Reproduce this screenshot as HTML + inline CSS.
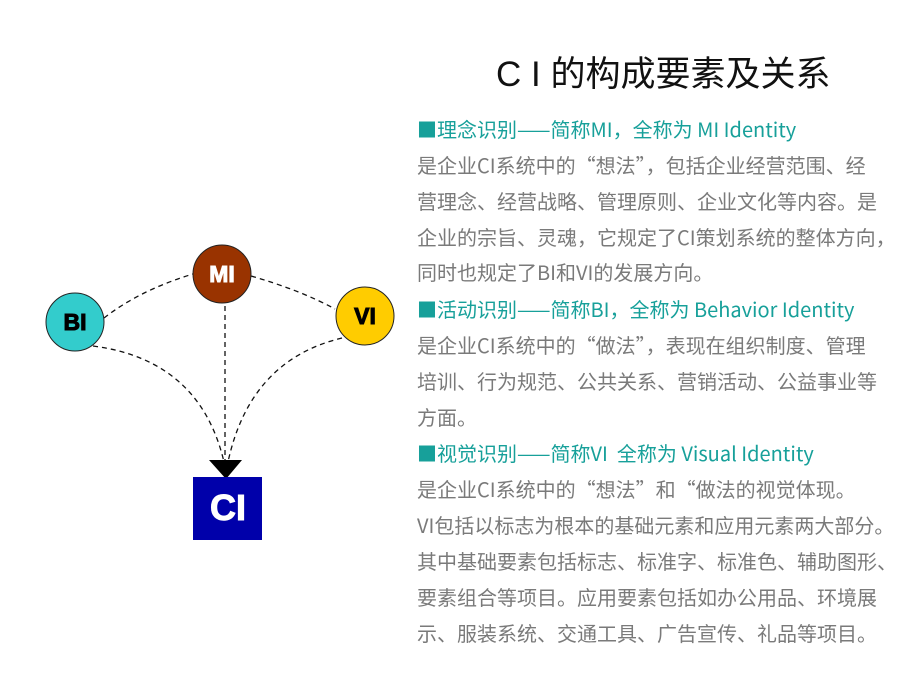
<!DOCTYPE html>
<html><head><meta charset="utf-8"><style>
body{margin:0;width:900px;height:675px;background:#fff;position:relative;overflow:hidden;font-family:"Noto Sans CJK SC","Liberation Sans",sans-serif}
.t{position:absolute;left:496px;top:46px;font-size:35px;color:#111;white-space:nowrap;font-family:"Liberation Sans","Noto Sans CJK SC",sans-serif}
.l{position:absolute;left:417px;font-size:20px;white-space:nowrap;color:#7a7a7a;line-height:24px}
.h{color:#17a09a}
</style></head><body>
<div class="t">C I 的构成要素及关系</div>
<div class="l h" style="top:117px">■理念识别——简称MI，全称为 MI Identity</div>
<div class="l" style="top:153px">是企业CI系统中的“想法”，包括企业经营范围、经</div>
<div class="l" style="top:189px">营理念、经营战略、管理原则、企业文化等内容。是</div>
<div class="l" style="top:225px">企业的宗旨、灵魂，它规定了CI策划系统的整体方向，</div>
<div class="l" style="top:260px">同时也规定了BI和VI的发展方向。</div>
<div class="l h" style="top:297px">■活动识别——简称BI，全称为 Behavior Identity</div>
<div class="l" style="top:333px">是企业CI系统中的“做法”，表现在组织制度、管理</div>
<div class="l" style="top:369px">培训、行为规范、公共关系、营销活动、公益事业等</div>
<div class="l" style="top:405px">方面。</div>
<div class="l h" style="top:441px">■视觉识别——简称VI&nbsp; 全称为 Visual Identity</div>
<div class="l" style="top:477px">是企业CI系统中的“想法”和“做法的视觉体现。</div>
<div class="l" style="top:513px">VI包括以标志为根本的基础元素和应用元素两大部分。</div>
<div class="l" style="top:549px">其中基础要素包括标志、标准字、标准色、辅助图形、</div>
<div class="l" style="top:585px">要素组合等项目。应用要素包括如办公用品、环境展</div>
<div class="l" style="top:621px">示、服装系统、交通工具、广告宣传、礼品等项目。</div>
<svg width="900" height="675" style="position:absolute;left:0;top:0">
<g fill="none" stroke="#111" stroke-width="1.3" stroke-dasharray="5,4">
<path d="M104 318 Q140 290 193 274"/>
<path d="M251 276 Q300 290 335 309"/>
<path d="M225 306 L225 462"/>
<path d="M93 346 Q200 360 224 462"/>
<path d="M342 338 Q250 360 228 462"/>
</g>
<polygon points="209,460 242,460 226,479" fill="#000"/>
<circle cx="222" cy="274" r="29" fill="#993300" stroke="#222" stroke-width="1"/>
<circle cx="75" cy="322" r="29" fill="#33cccc" stroke="#222" stroke-width="1"/>
<circle cx="365" cy="316" r="29" fill="#ffcc00" stroke="#222" stroke-width="1"/>
<rect x="193" y="477" width="69" height="63" fill="#0000aa"/>
<g font-family="Liberation Sans,sans-serif" font-weight="bold" text-anchor="middle" stroke-width="1">
<text x="222" y="282" font-size="23" fill="#fff" stroke="#fff">MI</text>
<text x="75" y="330" font-size="23" fill="#000" stroke="#000">BI</text>
<text x="365" y="324" font-size="23" fill="#000" stroke="#000">VI</text>
<text x="228" y="520" font-size="36" fill="#fff" stroke="#fff">CI</text>
</g>
</svg>
</body></html>
